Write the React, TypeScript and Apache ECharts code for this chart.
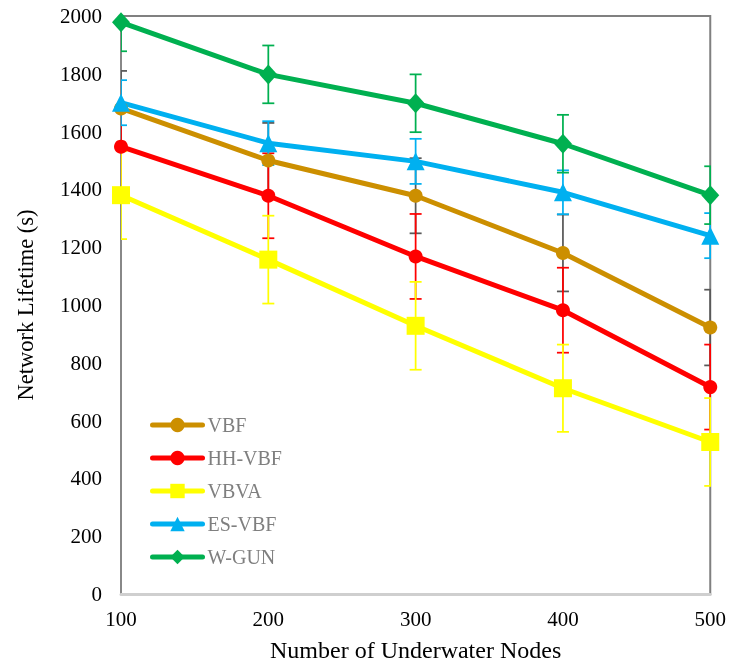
import React, { useEffect, useRef } from "react";
import * as echarts from "echarts";

const categories = ["100", "200", "300", "400", "500"];
const seriesNames = ["VBF", "HH-VBF", "VBVA", "ES-VBF", "W-GUN"];

const vbf = [1680, 1500, 1378, 1180, 922];
const hhvbf = [1548, 1378, 1168, 982, 716];
const vbva = [1380, 1157, 928, 712, 526];
const esvbf = [1700, 1560, 1497, 1390, 1240];
const wgun = [1978, 1798, 1698, 1558, 1380];

const vbfErr = [130, 130, 130, 133, 131];
const hhvbfErr = [147, 147, 147, 147, 147];
const vbvaErr = [152, 152, 152, 151, 152];
const esvbfErr = [78, 76, 78, 76, 78];
const wgunErr = [100, 100, 100, 100, 100];

const yTicks = { min: 0, max: 2000, interval: 200 };

const FONT = "'Liberation Serif', 'Times New Roman', serif";

export default function App() {
  const ref = useRef<HTMLDivElement>(null);

  useEffect(() => {
    if (!ref.current) return;
    const chart = echarts.init(ref.current, undefined, { renderer: "svg" });

    const defs = [
      { name: "VBF", data: vbf, err: vbfErr, color: "#CC8F00", errColor: "#595959", symbol: "circle", size: 14 },
      { name: "HH-VBF", data: hhvbf, err: hhvbfErr, color: "#FF0000", errColor: "#FF0000", symbol: "circle", size: 14 },
      { name: "VBVA", data: vbva, err: vbvaErr, color: "#FFFF00", errColor: "#FFFF00", symbol: "rect", size: 18 },
      { name: "ES-VBF", data: esvbf, err: esvbfErr, color: "#00B0F0", errColor: "#00B0F0", symbol: "triangle", size: 18 },
      { name: "W-GUN", data: wgun, err: wgunErr, color: "#00B050", errColor: "#00B050", symbol: "diamond", size: [18, 20] },
    ];

    const errSeries = defs.map((d) => ({
      type: "custom",
      name: d.name + "-err",
      clip: true,
      z: 1,
      encode: { x: 0, y: 1 },
      data: d.data.map((v, i) => [i, v, d.err[i]]),
      renderItem: (params: any, api: any) => {
        const idx = api.value(0);
        const v = api.value(1);
        const e = api.value(2);
        const hi = api.coord([idx, v + e]);
        const lo = api.coord([idx, v - e]);
        const w = 6;
        const style = { stroke: d.errColor, lineWidth: 1.75 };
        return {
          type: "group",
          children: [
            { type: "line", shape: { x1: hi[0], y1: hi[1], x2: lo[0], y2: lo[1] }, style },
            { type: "line", shape: { x1: hi[0] - w, y1: hi[1], x2: hi[0] + w, y2: hi[1] }, style },
            { type: "line", shape: { x1: lo[0] - w, y1: lo[1], x2: lo[0] + w, y2: lo[1] }, style },
          ],
        };
      },
    }));

    const lineSeries = defs.map((d) => ({
      type: "line",
      name: d.name,
      data: d.data,
      z: 3,
      symbol: d.symbol,
      symbolSize: d.size,
      showAllSymbol: true,
      itemStyle: { color: d.color },
      lineStyle: { color: d.color, width: 5 },
    }));

    chart.setOption({
      animation: false,
      grid: {
        left: 121,
        right: 17,
        top: 16,
        bottom: 71,
        show: true,
        borderColor: "#808080",
        borderWidth: 2,
      },
      legend: {
        data: seriesNames,
        orient: "vertical",
        left: 145,
        top: 410,
        itemWidth: 50,
        itemHeight: 18,
        itemGap: 13,
        lineStyle: { width: 5, cap: "round" },
        textStyle: { color: "#7F7F7F", fontSize: 20, fontFamily: FONT },
      },
      xAxis: {
        type: "category",
        data: categories,
        boundaryGap: false,
        axisLine: { lineStyle: { color: "#CFCFCF", width: 3 } },
        axisTick: { show: false },
        axisLabel: { color: "#000", fontSize: 21, fontFamily: FONT, margin: 14 },
        splitLine: { show: false },
        name: "Number of Underwater Nodes",
        nameLocation: "middle",
        nameGap: 44,
        nameTextStyle: { color: "#000", fontSize: 24, fontFamily: FONT },
      },
      yAxis: {
        type: "value",
        min: yTicks.min,
        max: yTicks.max,
        interval: yTicks.interval,
        axisLine: { show: true, lineStyle: { color: "#888888", width: 2 } },
        axisTick: { show: false },
        axisLabel: {
          color: "#000",
          fontSize: 21,
          fontFamily: FONT,
          margin: 19,
          formatter: (v: number) => String(v),
        },
        splitLine: { show: false },
      },
      graphic: [
        {
          type: "text",
          x: 25,
          y: 305,
          rotation: Math.PI / 2,
          style: {
            text: "Network Lifetime (s)",
            fill: "#000",
            fontSize: 22.5,
            fontFamily: FONT,
            textAlign: "center",
            textVerticalAlign: "middle",
          },
        },
      ],
      series: [...errSeries, ...lineSeries],
    });

    return () => chart.dispose();
  }, []);

  return (
    <div
      ref={ref}
      style={{ position: "fixed", left: 0, top: 0, width: 729, height: 667 }}
    />
  );
}
